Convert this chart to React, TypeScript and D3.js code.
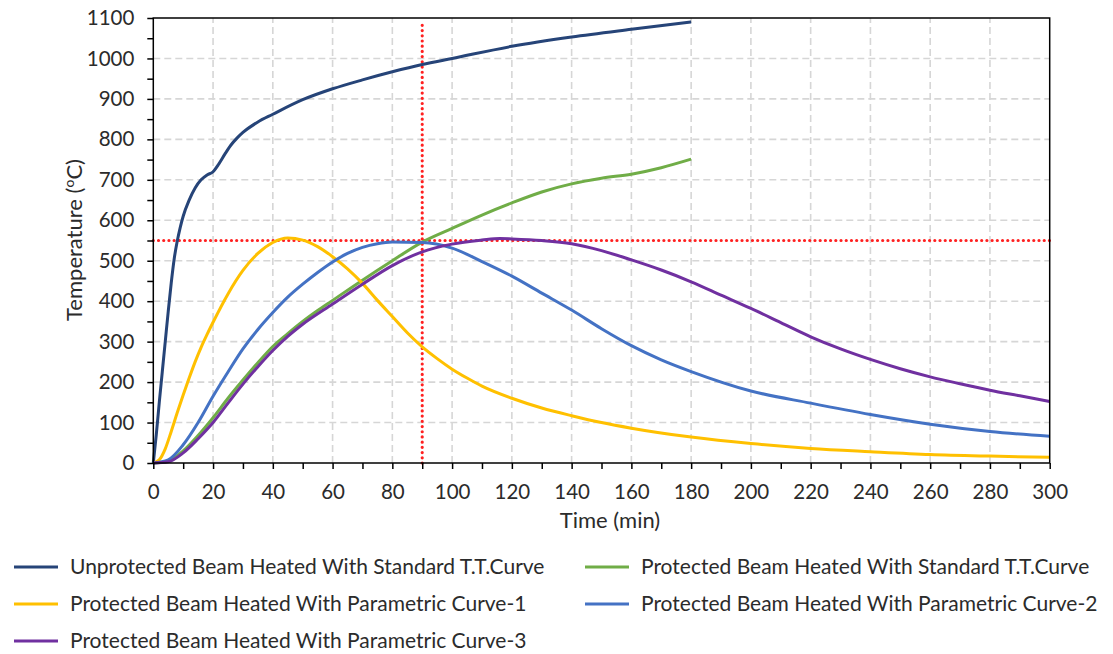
import * as d3 from "d3";
import { useEffect, useRef } from "react";

// time (min) / temperature (°C)
const unprotT = [0, 1, 2, 3, 4, 5, 6, 7, 8, 9, 10, 12, 14, 16, 18, 20, 22, 24, 26, 28, 30, 35, 40, 50, 60, 70, 80, 90, 100, 120, 140, 160, 180];
const unprotV = [0, 70, 150, 225, 300, 375, 445, 505, 548, 582, 610, 650, 680, 700, 712, 720, 740, 764, 786, 803, 817, 843, 862, 898, 925, 947, 967, 985, 1000, 1030, 1053, 1072, 1090];

const stdT = [0, 5, 10, 15, 20, 25, 30, 35, 40, 45, 50, 55, 60, 70, 80, 90, 100, 110, 120, 130, 140, 150, 160, 170, 180];
const stdV = [0, 5, 30, 68, 112, 160, 205, 248, 288, 320, 350, 377, 402, 452, 500, 546, 580, 613, 643, 670, 690, 704, 714, 730, 751];

const par1T = [0, 2, 4, 6, 8, 10, 12, 14, 16, 18, 20, 25, 30, 35, 40, 45, 50, 55, 60, 65, 70, 75, 80, 85, 90, 95, 100, 105, 110, 120, 130, 140, 150, 160, 180, 200, 220, 240, 260, 280, 300];
const par1V = [0, 8, 35, 78, 124, 168, 210, 250, 286, 318, 348, 418, 476, 518, 545, 556, 551, 535, 510, 480, 444, 402, 362, 322, 287, 258, 232, 210, 190, 160, 136, 117, 100, 86, 64, 48, 36, 28, 21, 17, 14];

const par2T = [0, 5, 10, 15, 20, 25, 30, 35, 40, 45, 50, 55, 60, 65, 70, 75, 80, 90, 100, 110, 120, 130, 140, 150, 160, 170, 180, 200, 220, 240, 260, 280, 300];
const par2V = [0, 8, 45, 100, 165, 225, 282, 330, 372, 410, 442, 471, 497, 518, 533, 542, 546, 545, 531, 498, 462, 420, 378, 332, 290, 255, 226, 178, 148, 120, 96, 78, 66];

const par3T = [0, 5, 10, 15, 20, 25, 30, 35, 40, 45, 50, 60, 70, 80, 90, 100, 110, 116, 120, 130, 140, 150, 160, 170, 180, 190, 200, 210, 220, 230, 240, 250, 260, 270, 280, 290, 300];
const par3V = [0, 3, 25, 60, 100, 148, 195, 238, 278, 313, 343, 393, 442, 488, 522, 541, 551, 555, 554, 550, 542, 525, 502, 477, 448, 415, 382, 347, 312, 282, 256, 233, 213, 196, 180, 166, 152];

const seriesNames = [
  "Unprotected Beam Heated With Standard T.T.Curve",
  "Protected Beam Heated With Standard T.T.Curve",
  "Protected Beam Heated With Parametric Curve-1",
  "Protected Beam Heated With Parametric Curve-2",
  "Protected Beam Heated With Parametric Curve-3",
];
const seriesColors = ["#264478", "#70AD47", "#FFC000", "#4472C4", "#7030A0"];

const limitTemp = 550;
const limitTime = 90;

const W = 1113;
const H = 654;
const FONT = "Lato, 'Open Sans', sans-serif";
const TEXT = "#2b2b2b";

export default function App() {
  const xAxisRef = useRef<SVGGElement>(null);
  const yAxisRef = useRef<SVGGElement>(null);

  const x = d3.scaleLinear().domain([0, 300]).range([153.3, 1049.7]);
  const y = d3.scaleLinear().domain([0, 1100]).range([463, 18]);

  const series = [
    { t: unprotT, v: unprotV },
    { t: stdT, v: stdV },
    { t: par1T, v: par1V },
    { t: par2T, v: par2V },
    { t: par3T, v: par3V },
  ].map((s, i) => ({
    name: seriesNames[i],
    color: seriesColors[i],
    pts: s.t.map((t, j) => [t, s.v[j]] as [number, number]),
  }));

  const line = d3
    .line<[number, number]>()
    .x((d) => x(d[0]))
    .y((d) => y(d[1]))
    .curve(d3.curveMonotoneX);

  useEffect(() => {
    const gx = d3.select(xAxisRef.current!);
    gx.call(
      d3
        .axisBottom(x)
        .tickValues(d3.range(0, 301, 10))
        .tickSize(6)
        .tickPadding(15)
        .tickFormat((d) => (+d % 20 === 0 ? String(d) : ""))
    );
    gx.select(".domain").remove();
    gx.selectAll(".tick line").attr("stroke", "#000").attr("stroke-width", 1.5);
    gx.selectAll("text").attr("font-size", 20.5).attr("font-family", FONT).attr("fill", TEXT);

    const gy = d3.select(yAxisRef.current!);
    gy.call(
      d3
        .axisLeft(y)
        .tickValues(d3.range(0, 1101, 50))
        .tickSize(6)
        .tickPadding(13)
        .tickFormat((d) => (+d % 100 === 0 ? String(d) : ""))
    );
    gy.select(".domain").remove();
    gy.selectAll(".tick line").attr("stroke", "#000").attr("stroke-width", 1.5);
    gy.selectAll("text").attr("font-size", 20.5).attr("font-family", FONT).attr("fill", TEXT);
  }, []);

  const gridX = d3.range(20, 300, 20);
  const gridY = d3.range(100, 1100, 100);

  const legendPos = [
    [14, 567],
    [585, 567],
    [14, 604],
    [585, 604],
    [14, 641],
  ];

  return (
    <svg width={W} height={H} style={{ position: "absolute", left: 0, top: 0, background: "#fff" }}>
      {/* grid */}
      <g stroke="#d6d6d6" strokeWidth={1.6} strokeDasharray="7,4">
        {gridX.map((g) => (
          <line key={"gx" + g} x1={x(g)} x2={x(g)} y1={y(0)} y2={y(1100)} />
        ))}
        {gridY.map((g) => (
          <line key={"gy" + g} x1={x(0)} x2={x(300)} y1={y(g)} y2={y(g)} />
        ))}
      </g>

      {/* 550 °C / 90 min limits */}
      <g stroke="#FF2020" strokeWidth={3.2} strokeDasharray="0.01,5.2" strokeLinecap="round">
        <line x1={x(0)} x2={x(300)} y1={y(limitTemp)} y2={y(limitTemp)} />
        <line x1={x(limitTime)} x2={x(limitTime)} y1={y(0)} y2={y(1088)} />
      </g>

      {series.map((s) => (
        <path key={s.name} d={line(s.pts) || ""} fill="none" stroke={s.color} strokeWidth={3} />
      ))}

      {/* frame */}
      <rect x={x(0)} y={y(1100)} width={x(300) - x(0)} height={y(0) - y(1100)} fill="none" stroke="#000" strokeWidth={1.5} />

      <g ref={xAxisRef} transform={`translate(0,${y(0)})`} />
      <g ref={yAxisRef} transform={`translate(${x(0)},0)`} />

      <text x={610} y={528} textAnchor="middle" fontSize={22} fontFamily={FONT} fill={TEXT}>
        Time (min)
      </text>
      <text transform="translate(82,240) rotate(-90)" textAnchor="middle" fontSize={22} fontFamily={FONT} fill={TEXT}>
        Temperature (<tspan fontSize={14} dy={-8}>o</tspan>
        <tspan dy={8}>C)</tspan>
      </text>

      {series.map((s, i) => {
        const [lx, ly] = legendPos[i];
        return (
          <g key={"lg" + i} transform={`translate(${lx},${ly})`}>
            <line x1={0} x2={44} y1={0} y2={0} stroke={s.color} strokeWidth={3} />
            <text x={56} y={0} dy="0.35em" fontSize={21} fontFamily={FONT} fill={TEXT}>
              {s.name}
            </text>
          </g>
        );
      })}
    </svg>
  );
}
